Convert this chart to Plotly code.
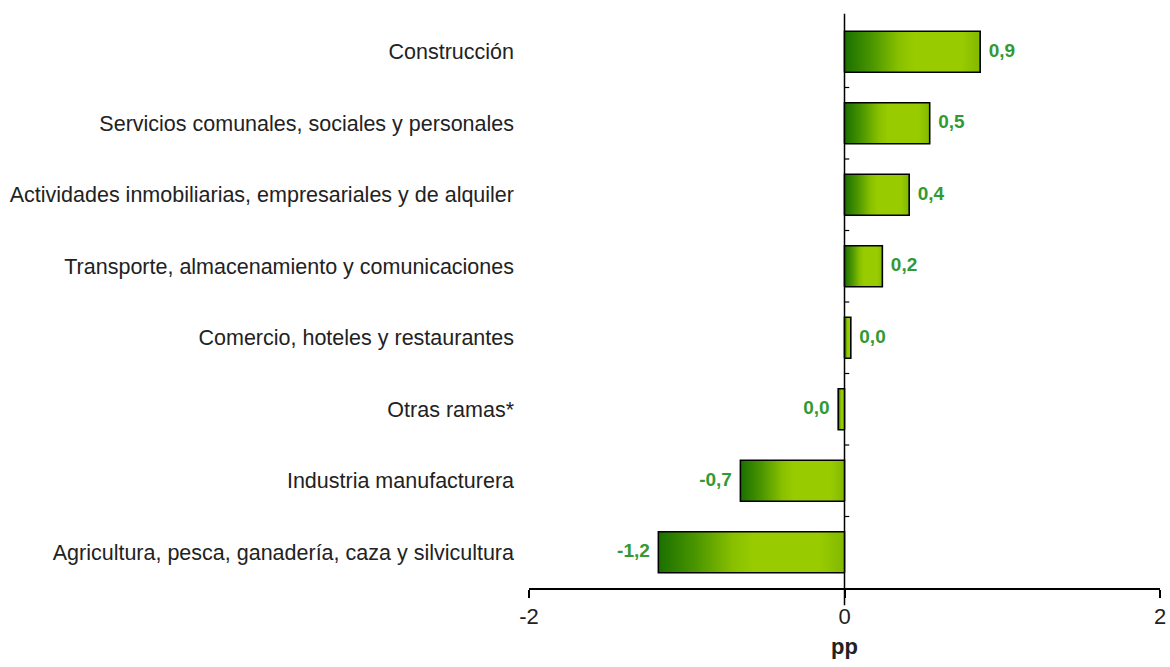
import plotly.graph_objects as go

categories = [
    "Construcción",
    "Servicios comunales, sociales y personales",
    "Actividades inmobiliarias, empresariales y de alquiler",
    "Transporte, almacenamiento y comunicaciones",
    "Comercio, hoteles y restaurantes",
    "Otras ramas*",
    "Industria manufacturera",
    "Agricultura, pesca, ganadería, caza y silvicultura",
]
values = [0.86, 0.54, 0.41, 0.24, 0.04, -0.04, -0.66, -1.18]
x_tick_values = [-2, 0, 2]
x_tick_labels = ["-2", "0", "2"]


def fmt(v):
    r = round(v, 1)
    if abs(r) < 0.05:
        r = 0.0
    return f"{r:.1f}".replace(".", ",")


n = len(categories)
ypos = [n - 1 - i for i in range(n)]
half = 0.287

grad = [[0.0, "#1a7000"], [0.2, "#4a9500"], [0.4, "#88c000"], [0.52, "#99cc00"],
        [0.86, "#99cc00"], [1.0, "#82b900"]]

fig = go.Figure()
for cat, v, y in zip(categories, values, ypos):
    fig.add_trace(go.Scatter(
        x=[0, v, v, 0, 0],
        y=[y - half, y - half, y + half, y + half, y - half],
        mode="lines",
        fill="toself",
        fillgradient=dict(type="horizontal", colorscale=grad),
        line=dict(color="black", width=1.6),
        name=cat,
        hoverinfo="skip",
        showlegend=False,
    ))

fig.add_trace(go.Scatter(
    x=values,
    y=ypos,
    mode="markers+text",
    marker=dict(size=12, color="rgba(0,0,0,0)"),
    text=[fmt(v) for v in values],
    textposition=["middle right" if v >= 0 else "middle left" for v in values],
    textfont=dict(family="Liberation Sans, Arial", size=19, color="#339933", weight="bold"),
    showlegend=False,
    hoverinfo="skip",
))

# small boundary ticks on the vertical axis
for k in range(n - 1):
    fig.add_shape(type="line", xref="x", yref="y", x0=0, x1=0.03,
                  y0=k + 0.5, y1=k + 0.5, line=dict(color="black", width=1.2))
# vertical axis line at zero, extending below the x axis
fig.add_shape(type="line", xref="x", yref="paper", x0=0, x1=0, y0=-0.03, y1=1.004,
              line=dict(color="black", width=1.5), layer="below")

fig.update_layout(
    width=1170,
    height=667,
    margin=dict(l=529, r=10, t=16, b=79),
    plot_bgcolor="white",
    paper_bgcolor="white",
    font=dict(family="Liberation Sans, Arial", color="#222222"),
    xaxis=dict(
        range=[-2, 2],
        tickvals=x_tick_values,
        ticktext=x_tick_labels,
        showline=True,
        linecolor="black",
        linewidth=1.5,
        ticks="outside",
        ticklen=8,
        tickcolor="black",
        tickwidth=1.5,
        showgrid=False,
        zeroline=False,
        automargin=False,
        tickfont=dict(size=22, color="#222222"),
        title=dict(text="<b>pp</b>", font=dict(size=22, color="#222222"), standoff=10),
    ),
    yaxis=dict(
        range=[-0.5, n - 0.5],
        tickvals=ypos,
        ticktext=categories,
        showline=False,
        showgrid=False,
        zeroline=False,
        automargin=False,
        ticks="",
        ticklabelstandoff=14,
        tickfont=dict(size=21.5, color="#222222"),
    ),
)

fig.write_html(
    "out.html",
    config={"displayModeBar": False},
    post_script="document.body.style.margin='0';document.body.style.overflow='hidden';",
)
